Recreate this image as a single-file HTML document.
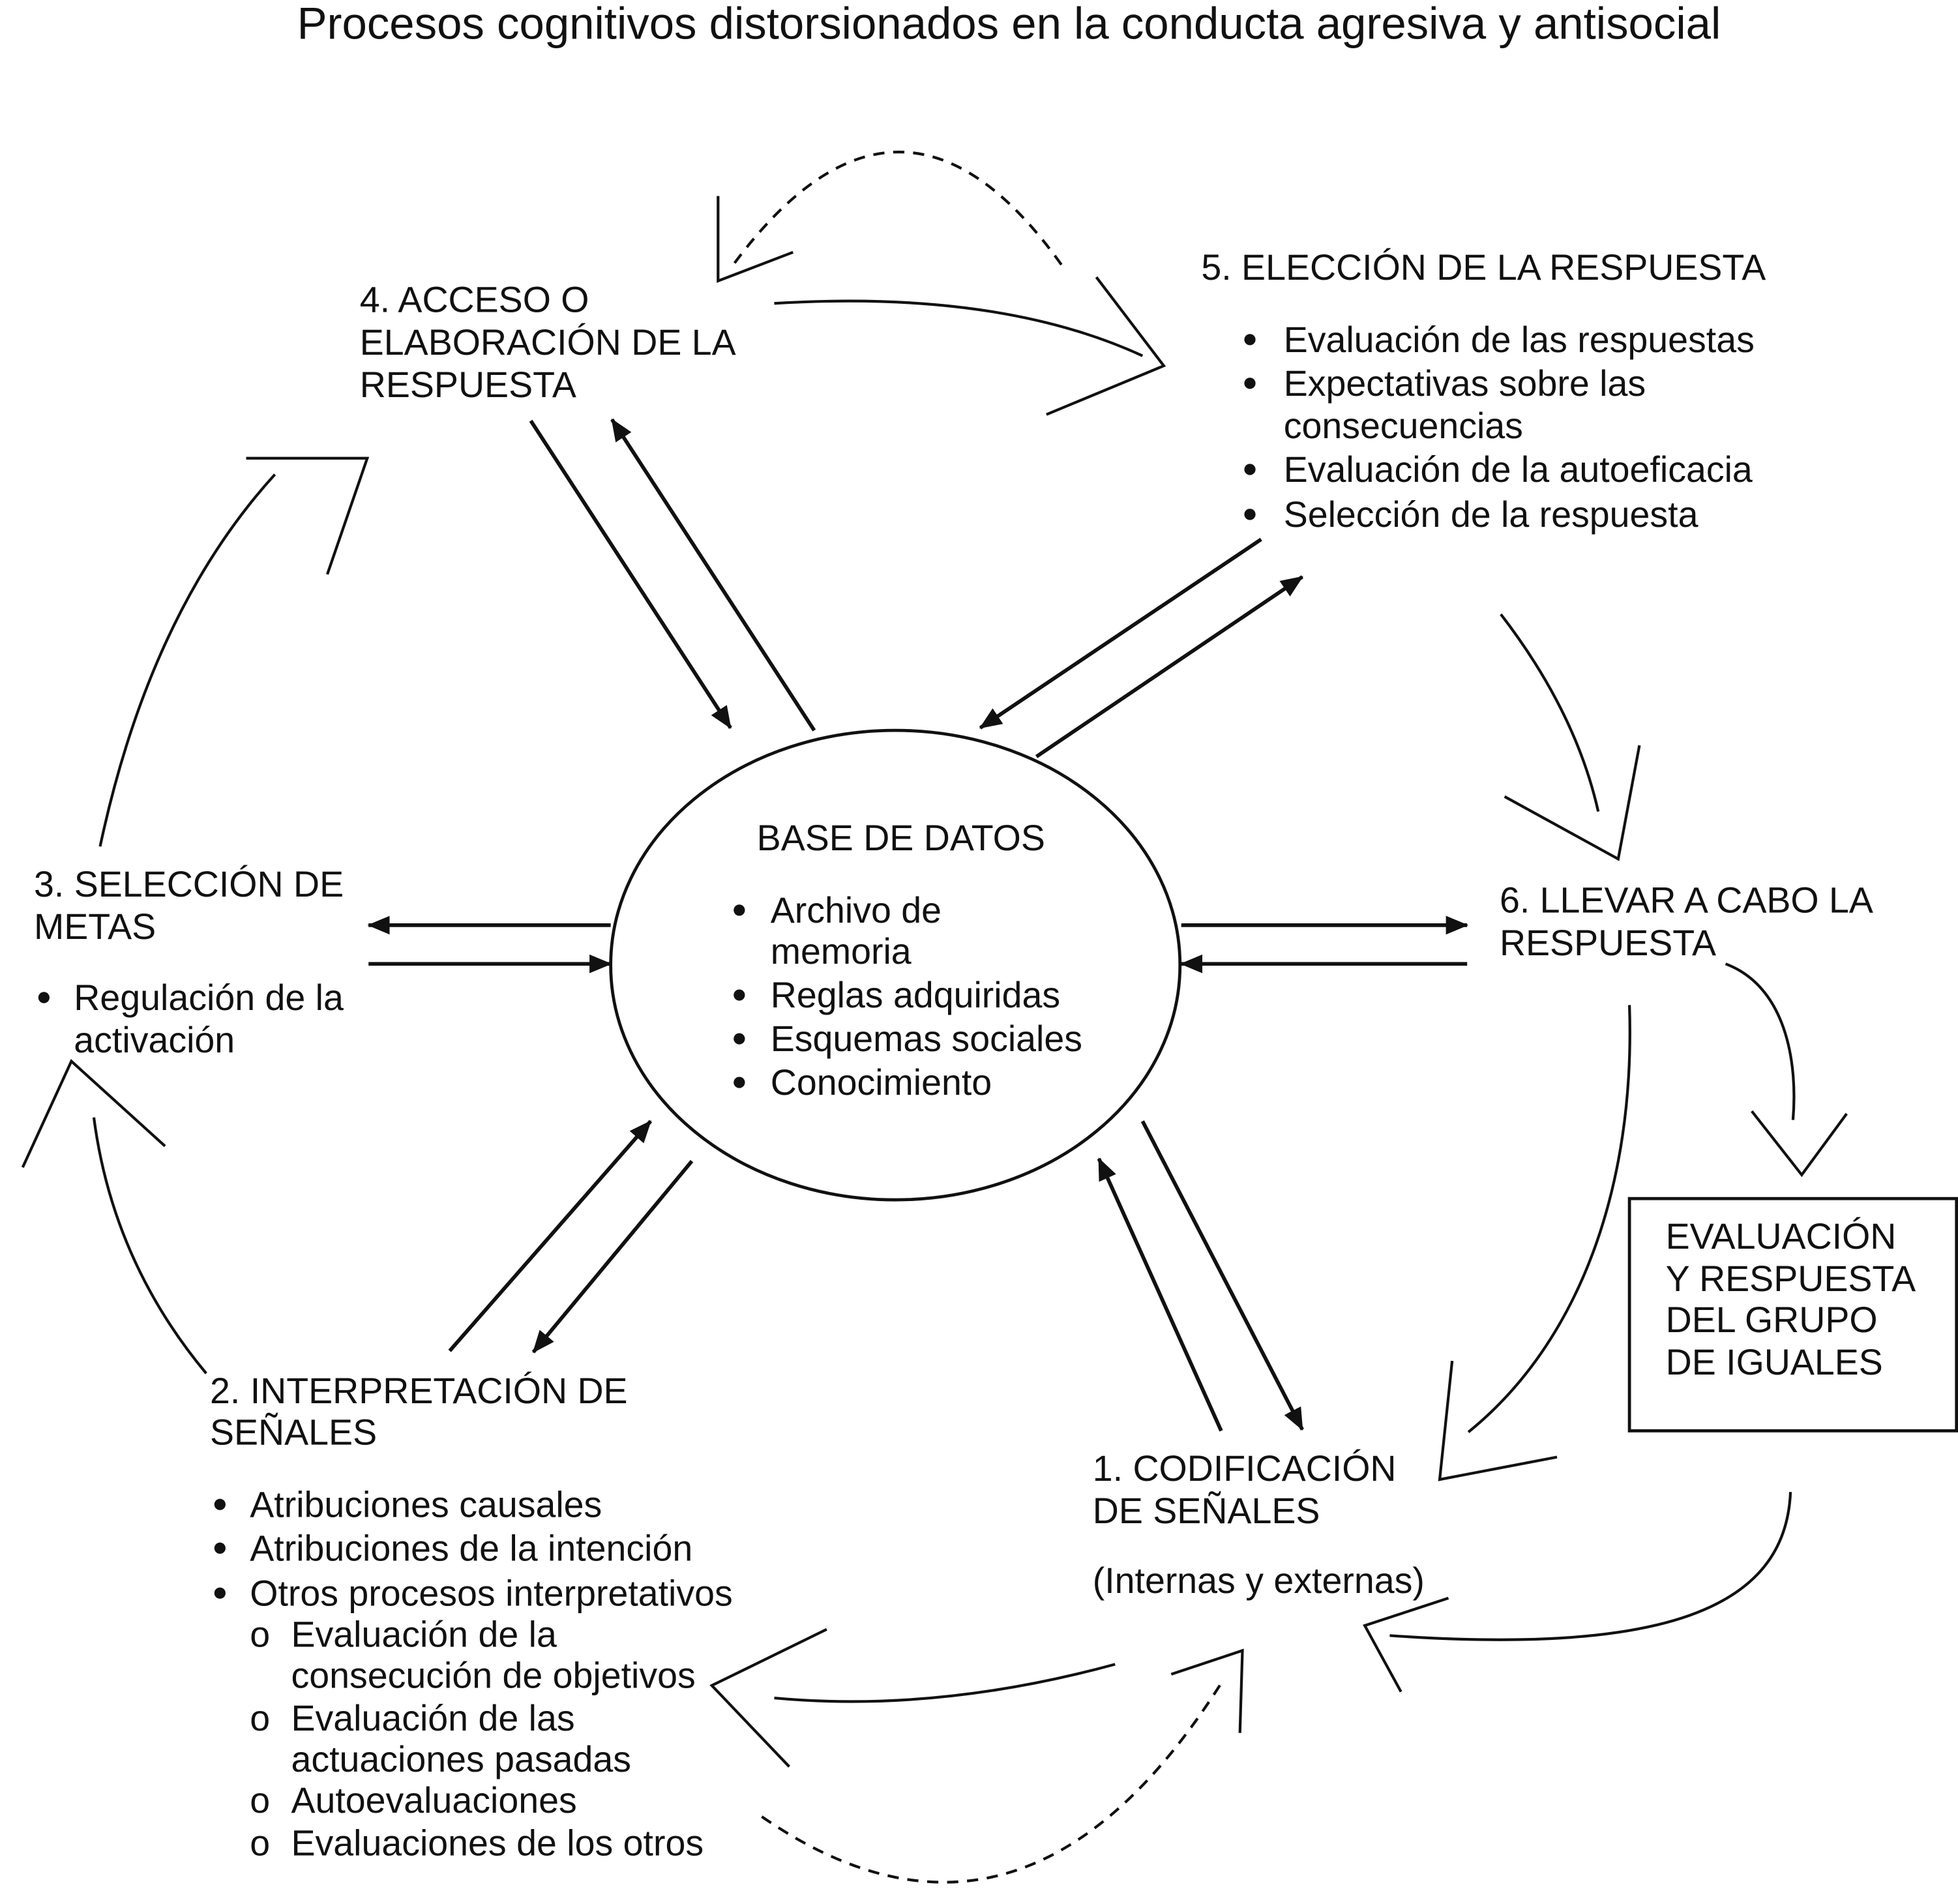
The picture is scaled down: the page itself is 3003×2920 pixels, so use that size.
<!DOCTYPE html>
<html><head><meta charset="utf-8">
<style>
html,body{margin:0;padding:0;background:#fff;}
svg{display:block;}
text{font-family:"Liberation Sans",sans-serif;font-size:29px;fill:#111;}
</style></head>
<body>
<svg width="3003" height="2920" viewBox="0 0 1568 1525" xmlns="http://www.w3.org/2000/svg">
<defs>
<marker id="ah" markerWidth="18" markerHeight="16" refX="17" refY="7.5" orient="auto" markerUnits="userSpaceOnUse" viewBox="0 0 18 15">
<path d="M0,0 L18,7.5 L0,15 z" fill="#111"/>
</marker>
</defs>
<rect width="1568" height="1525" fill="#fff"/>
<text x="808" y="31" text-anchor="middle" style="font-size:36px">Procesos cognitivos distorsionados en la conducta agresiva y antisocial</text>

<ellipse cx="717" cy="773" rx="228" ry="188" fill="none" stroke="#111" stroke-width="2.5"/>

<g stroke="#111" stroke-width="3" fill="none">
<line x1="425" y1="337" x2="585" y2="583" marker-end="url(#ah)"/>
<line x1="652" y1="585" x2="490" y2="336" marker-end="url(#ah)"/>
<line x1="1010" y1="432" x2="785" y2="583" marker-end="url(#ah)"/>
<line x1="830" y1="606" x2="1043" y2="462" marker-end="url(#ah)"/>
<line x1="489" y1="741" x2="295" y2="741" marker-end="url(#ah)"/>
<line x1="295" y1="772" x2="489" y2="772" marker-end="url(#ah)"/>
<line x1="946" y1="741" x2="1175" y2="741" marker-end="url(#ah)"/>
<line x1="1175" y1="772" x2="946" y2="772" marker-end="url(#ah)"/>
<line x1="360" y1="1082" x2="521" y2="898" marker-end="url(#ah)"/>
<line x1="554" y1="930" x2="427" y2="1083" marker-end="url(#ah)"/>
<line x1="915" y1="898" x2="1043" y2="1145" marker-end="url(#ah)"/>
<line x1="978" y1="1146" x2="880" y2="928" marker-end="url(#ah)"/>
</g>

<g stroke="#111" stroke-width="2.2" fill="none">
<path d="M620,243 Q800,232 915,285"/>
<polyline points="838,332 932,293 878,222"/>
<path d="M1202,492 Q1262,570 1280,650"/>
<polyline points="1205,638 1296,688 1313,597"/>
<path d="M1382,772 C1430,790 1440,850 1436,897"/>
<polyline points="1403,890 1443,941 1479,892"/>
<path d="M1434,1195 C1430,1290 1330,1325 1113,1310"/>
<polyline points="1122,1355 1093,1302 1160,1280"/>
<path d="M1305,805 C1310,950 1265,1075 1176,1147"/>
<polyline points="1163,1090 1153,1185 1247,1167"/>
<path d="M893,1333 Q750,1372 620,1360"/>
<polyline points="662,1305 570,1350 632,1415"/>
<path d="M165,1100 Q90,1010 75,895"/>
<polyline points="18,935 57,850 132,918"/>
<path d="M80,678 Q120,490 220,380"/>
<polyline points="197,367 294,367 262,460"/>
<path d="M850,212 Q720,30 585,215" stroke-dasharray="9,7"/>
<polyline points="575,157 575,225 635,202"/>
<path d="M610,1455 Q820,1600 980,1345" stroke-dasharray="9,7"/>
<polyline points="938,1341 995,1322 993,1388"/>
</g>

<rect x="1305" y="960" width="262" height="186" fill="none" stroke="#111" stroke-width="2.5"/>

<g fill="#111">
<circle cx="1001" cy="272" r="4.5"/><circle cx="1001" cy="307" r="4.5"/><circle cx="1001" cy="376" r="4.5"/><circle cx="1001" cy="412" r="4.5"/>
<circle cx="35" cy="799" r="4.5"/>
<circle cx="592" cy="729" r="4.5"/><circle cx="592" cy="797" r="4.5"/><circle cx="592" cy="832" r="4.5"/><circle cx="592" cy="867" r="4.5"/>
<circle cx="176" cy="1205" r="4.5"/><circle cx="176" cy="1240" r="4.5"/><circle cx="176" cy="1276" r="4.5"/>
</g>

<g>
<text x="288" y="250">4. ACCESO O</text>
<text x="288" y="284">ELABORACIÓN DE LA</text>
<text x="288" y="318">RESPUESTA</text>

<text x="962" y="224">5. ELECCIÓN DE LA RESPUESTA</text>
<text x="1028" y="282">Evaluación de las respuestas</text>
<text x="1028" y="317">Expectativas sobre las</text>
<text x="1028" y="351">consecuencias</text>
<text x="1028" y="386">Evaluación de la autoeficacia</text>
<text x="1028" y="422">Selección de la respuesta</text>

<text x="27" y="718">3. SELECCIÓN DE</text>
<text x="27" y="752">METAS</text>
<text x="59" y="809">Regulación de la</text>
<text x="59" y="843">activación</text>

<text x="606" y="681">BASE DE DATOS</text>
<text x="617" y="739">Archivo de</text>
<text x="617" y="772">memoria</text>
<text x="617" y="807">Reglas adquiridas</text>
<text x="617" y="842">Esquemas sociales</text>
<text x="617" y="877">Conocimiento</text>

<text x="1201" y="731">6. LLEVAR A CABO LA</text>
<text x="1201" y="765">RESPUESTA</text>

<text x="1334" y="1000">EVALUACIÓN</text>
<text x="1334" y="1034">Y RESPUESTA</text>
<text x="1334" y="1067">DEL GRUPO</text>
<text x="1334" y="1101">DE IGUALES</text>

<text x="875" y="1186">1. CODIFICACIÓN</text>
<text x="875" y="1220">DE SEÑALES</text>
<text x="875" y="1276">(Internas y externas)</text>

<text x="168" y="1124">2. INTERPRETACIÓN DE</text>
<text x="168" y="1157">SEÑALES</text>
<text x="200" y="1215">Atribuciones causales</text>
<text x="200" y="1250">Atribuciones de la intención</text>
<text x="200" y="1286">Otros procesos interpretativos</text>
<text x="200" y="1319">o</text><text x="233" y="1319">Evaluación de la</text>
<text x="233" y="1352">consecución de objetivos</text>
<text x="200" y="1386">o</text><text x="233" y="1386">Evaluación de las</text>
<text x="233" y="1419">actuaciones pasadas</text>
<text x="200" y="1452">o</text><text x="233" y="1452">Autoevaluaciones</text>
<text x="200" y="1486">o</text><text x="233" y="1486">Evaluaciones de los otros</text>
</g>
</svg>
</body></html>
